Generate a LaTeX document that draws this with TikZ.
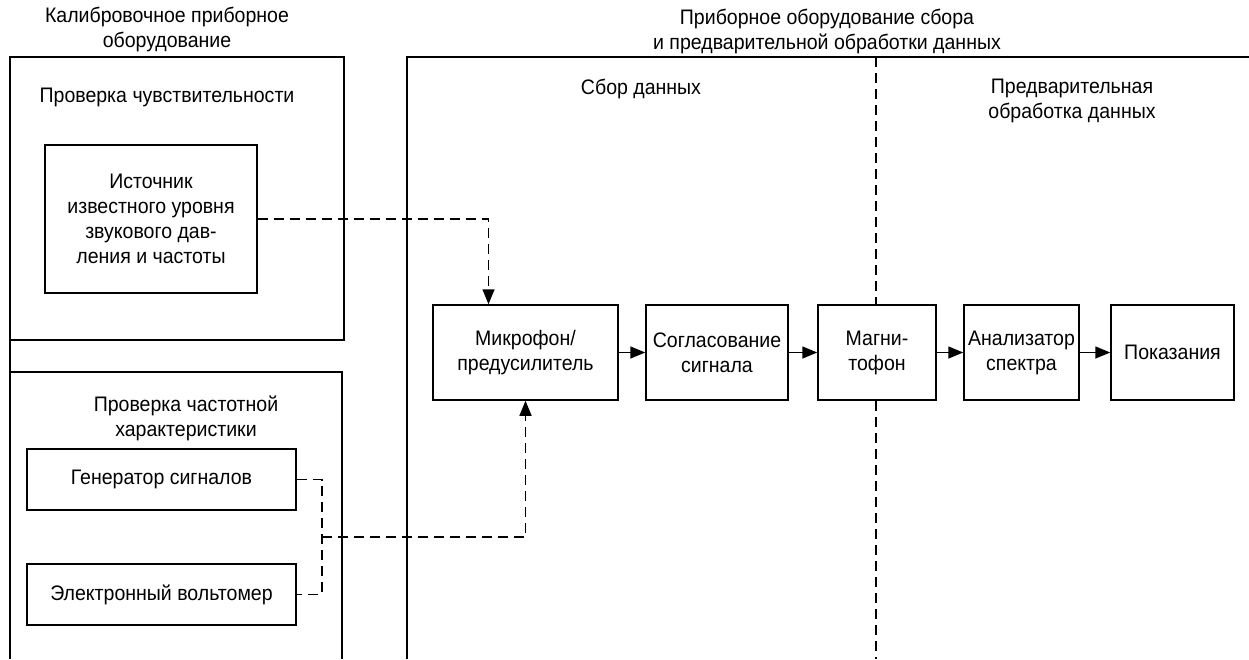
\documentclass[tikz,border=0pt]{standalone}
\usepackage{fontspec}
\setmainfont[FakeStretch=0.93]{Liberation Sans}
\usetikzlibrary{arrows.meta}
\begin{document}
\begin{tikzpicture}[x=1pt,y=-1pt,
  every node/.style={font=\fontsize{21}{25}\selectfont, inner sep=0pt},
  blk/.style={draw, line width=1.5pt, align=center},
  frame/.style={line width=1.5pt},
  lbl/.style={align=center},
  dsh/.style={line width=1.5pt, dash pattern=on 10pt off 6pt},
  arr/.style={-{Triangle[length=15pt,width=12pt]}, line width=1.5pt},
]
\useasboundingbox (0,0) rectangle (1249,659);
% frames
\draw[frame] (10,659) -- (10,57) -- (344,57) -- (344,340) -- (10,340);
\draw[frame] (10,659) -- (10,372) -- (342,372) -- (342,659);
\draw[frame] (407,659) -- (407,57) -- (1249,57);
% titles
\node[lbl] (t1) at (167,29) {Калибровочное приборное\\оборудование};
\node[lbl] (t2) at (827,31) {Приборное оборудование сбора\\и предварительной обработки данных};
\node[lbl] (t3) at (167,97) {Проверка чувствительности};
\node[lbl] (t4) at (186,418) {Проверка частотной\\характеристики};
\node[lbl] (t5) at (641,89) {Сбор данных};
\node[lbl] (t6) at (1072,101) {Предварительная\\обработка данных};
% blocks
\node[blk, minimum width=212pt, minimum height=148pt] (src) at (151,219) {Источник\\известного уровня\\звукового дав-\\ления и частоты};
\node[blk, minimum width=269pt, minimum height=61pt] (gen) at (161.5,479.5) {Генератор сигналов};
\node[blk, minimum width=269pt, minimum height=61pt] (volt) at (161.5,594.5) {Электронный вольтомер};
\node[blk, minimum width=185pt, minimum height=95pt] (mic) at (525.5,352.5) {Микрофон/\\предусилитель};
\node[blk, minimum width=142pt, minimum height=95pt] (sog) at (717,352.5) {Согласование\\сигнала};
\node[blk, minimum width=118pt, minimum height=95pt] (mag) at (877,352.5) {Магни-\\тофон};
\node[blk, minimum width=115pt, minimum height=95pt] (ana) at (1021.5,352.5) {Анализатор\\спектра};
\node[blk, minimum width=123pt, minimum height=95pt] (pok) at (1172.5,352.5) {Показания};
% divider
\coordinate (dtop) at (876,57);
\coordinate (dbot) at (876,659);
\draw[dsh, line width=1.1pt] (dtop) -- (mag.north -| dtop);
\draw[dsh, line width=1.1pt] (mag.south -| dbot) -- (dbot);
% arrows
\draw[arr] (mic) -- (sog);
\draw[arr] (sog) -- (mag);
\draw[arr] (mag) -- (ana);
\draw[arr] (ana) -- (pok);
% dashed connectors
\draw[dsh, arr] (src.east) -| ([xshift=-37pt]mic.north);
\coordinate (j) at (322,537);
\draw[dsh] (gen.east) -| (j) |- (volt.east);
\draw[dsh, arr] (j) -| (mic.south);
\end{tikzpicture}
\end{document}
